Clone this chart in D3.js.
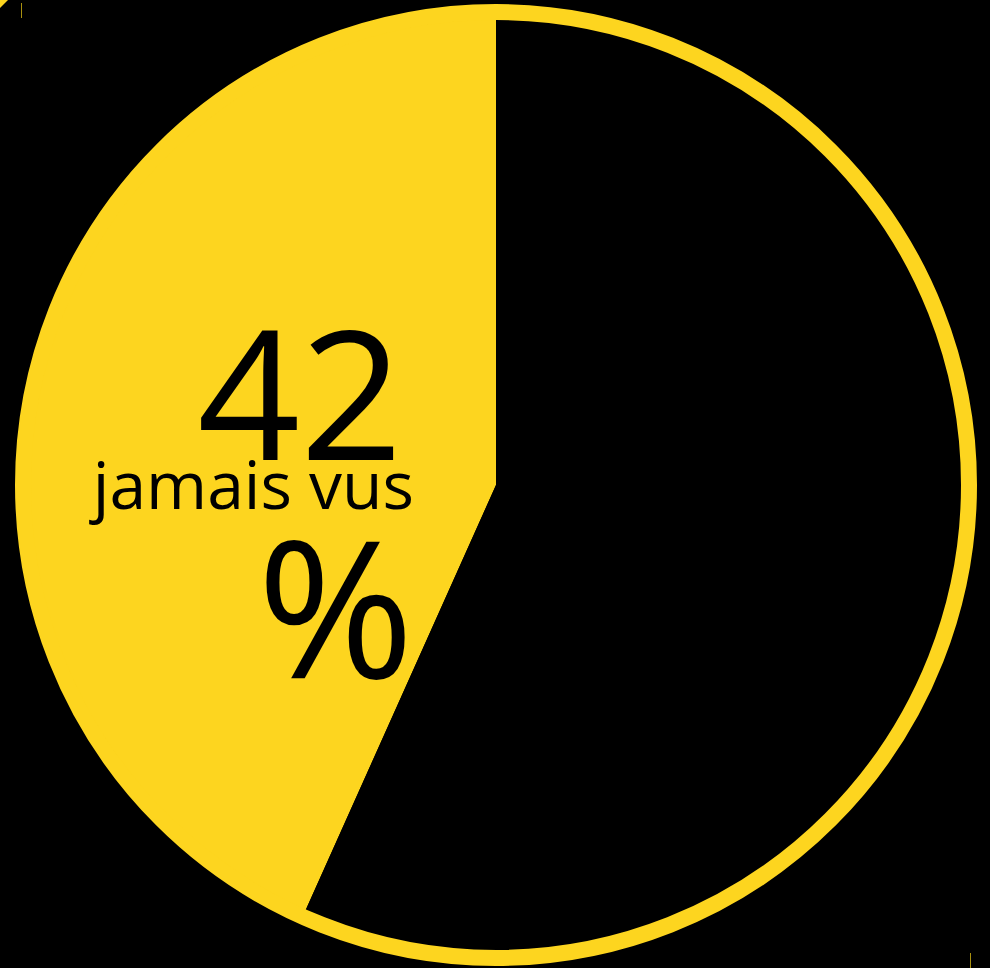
<!DOCTYPE html>
<html>
<head>
<meta charset="utf-8">
<script src="https://cdn.jsdelivr.net/npm/d3@7"></script>
<style>
  html, body { margin: 0; padding: 0; background: #000; }
  svg { display: block; }
</style>
</head>
<body>
<div id="chart"></div>
<script>
// shares as drawn (yellow slice, black slice)
const categories = ["jamais vus", "autres"];
const shares = [43.3, 56.7];
const labelValue = "42";
const labelUnit = "%";

const width = 990, height = 968;
const yellow = "#fdd51f";
const cx = 496, cy = 485;
const radius = 466;

const svg = d3.select("#chart").append("svg")
    .attr("width", width)
    .attr("height", height)
    .style("background", "#000");

const color = d3.scaleOrdinal()
    .domain(categories)
    .range([yellow, "#000"]);

// yellow runs counter-clockwise from 12 o'clock
const pie = d3.pie()
    .sort(null)
    .startAngle(0)
    .endAngle(-2 * Math.PI)
    .value(d => d.value);

const arc = d3.arc()
    .innerRadius(0)
    .outerRadius(radius);

const data = categories.map((c, i) => ({ name: c, value: shares[i] }));

const g = svg.append("g")
    .attr("transform", `translate(${cx},${cy})`);

g.selectAll("path")
    .data(pie(data))
    .enter().append("path")
    .attr("d", arc)
    .attr("fill", d => color(d.data.name));

// outer ring
g.append("circle")
    .attr("r", radius + 7)
    .attr("fill", "none")
    .attr("stroke", yellow)
    .attr("stroke-width", 16);

// labels
const labels = svg.append("g")
    .attr("font-family", "'Open Sans', 'Noto Sans', sans-serif")
    .attr("fill", "#000")
    .attr("text-anchor", "end");

labels.append("text")
    .attr("x", 403)
    .attr("y", 460)
    .style("font-size", "180px")
    .text(labelValue);

labels.append("text")
    .attr("x", 414)
    .attr("y", 509)
    .style("font-size", "66px")
    .text(categories[0]);

labels.append("text")
    .attr("x", 414)
    .attr("y", 678)
    .style("font-size", "190px")
    .text(labelUnit);

// crop marks
svg.append("path")
    .attr("d", "M0,0H8L0,8Z")
    .attr("fill", yellow);
svg.append("line")
    .attr("x1", 21.5).attr("x2", 21.5).attr("y1", 3).attr("y2", 18)
    .attr("stroke", "#a8900f").attr("stroke-width", 1);
svg.append("line")
    .attr("x1", 970.5).attr("x2", 970.5).attr("y1", 953).attr("y2", 968)
    .attr("stroke", "#a8900f").attr("stroke-width", 1);
</script>
</body>
</html>
